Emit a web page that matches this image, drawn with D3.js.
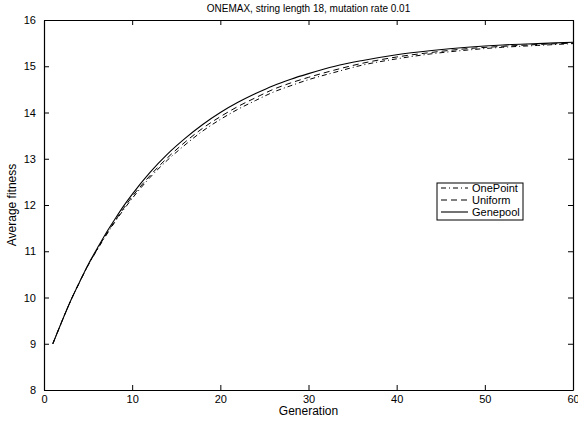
<!DOCTYPE html>
<html>
<head>
<meta charset="utf-8">
<script src="https://cdn.jsdelivr.net/npm/d3@7"></script>
<style>
  body { margin: 0; background: #fff; }
  svg { font-family: "Liberation Sans", Arial, sans-serif; }
</style>
</head>
<body>
<div id="chart"></div>
<script>
// data
const generations = [1, 2, 3, 4, 5, 6, 7, 8, 9, 10, 12, 14, 16, 18, 20, 22, 24, 26, 28, 30, 33, 36, 40, 44, 48, 52, 56, 60];
const genepool = [9.00, 9.47, 9.92, 10.32, 10.71, 11.05, 11.38, 11.68, 11.97, 12.23, 12.70, 13.10, 13.44, 13.74, 14.00, 14.22, 14.41, 14.58, 14.72, 14.84, 15.00, 15.12, 15.25, 15.34, 15.41, 15.46, 15.49, 15.52];
const uniform = [9.00, 9.47, 9.92, 10.32, 10.70, 11.03, 11.35, 11.64, 11.92, 12.18, 12.63, 13.02, 13.36, 13.66, 13.91, 14.13, 14.32, 14.50, 14.64, 14.76, 14.92, 15.06, 15.20, 15.30, 15.38, 15.43, 15.47, 15.50];
const onepoint = [9.00, 9.47, 9.92, 10.32, 10.69, 11.02, 11.33, 11.62, 11.89, 12.14, 12.59, 12.97, 13.30, 13.60, 13.85, 14.07, 14.26, 14.44, 14.58, 14.71, 14.87, 15.02, 15.16, 15.27, 15.35, 15.41, 15.45, 15.49];
const seriesNames = ["OnePoint", "Uniform", "Genepool"];
const xTicks = [0, 10, 20, 30, 40, 50, 60];
const yTicks = [8, 9, 10, 11, 12, 13, 14, 15, 16];

const WIDTH = 578;
const HEIGHT = 426;
const margin = {left: 44, right: 5, top: 20, bottom: 36};

const svg = d3.select("#chart").append("svg")
  .attr("width", WIDTH)
  .attr("height", HEIGHT);

const x = d3.scaleLinear().domain([0, 60]).range([margin.left, WIDTH - margin.right]);
const y = d3.scaleLinear().domain([8, 16]).range([HEIGHT - margin.bottom, margin.top]);

// axes, matlab style: ticks point inward on all four sides
function styleAxis(g) {
  g.selectAll(".domain").attr("stroke", "#000").attr("stroke-width", 1.2);
  g.selectAll(".tick line").attr("stroke", "#000");
  g.selectAll(".tick text").attr("fill", "#000").style("font-size", "11px");
}

svg.append("g")
  .attr("transform", `translate(0,${y(8)})`)
  .call(d3.axisBottom(x).tickValues(xTicks).tickSizeInner(-5).tickSizeOuter(0).tickPadding(5))
  .call(styleAxis);

svg.append("g")
  .attr("transform", `translate(0,${y(16)})`)
  .call(d3.axisTop(x).tickValues(xTicks).tickSizeInner(-5).tickSizeOuter(0).tickFormat(""))
  .call(styleAxis);

svg.append("g")
  .attr("transform", `translate(${x(0)},0)`)
  .call(d3.axisLeft(y).tickValues(yTicks).tickSizeInner(-5).tickSizeOuter(0).tickPadding(8))
  .call(styleAxis);

svg.append("g")
  .attr("transform", `translate(${x(60)},0)`)
  .call(d3.axisRight(y).tickValues(yTicks).tickSizeInner(-5).tickSizeOuter(0).tickFormat(""))
  .call(styleAxis);

// lines
const styles = {
  OnePoint: {values: onepoint, dash: "5,3,1,3", width: 1},
  Uniform: {values: uniform, dash: "6,4", width: 1},
  Genepool: {values: genepool, dash: null, width: 1.1}
};

const line = d3.line()
  .x(d => x(d[0]))
  .y(d => y(d[1]))
  .curve(d3.curveMonotoneX);

seriesNames.forEach(name => {
  const s = styles[name];
  svg.append("path")
    .datum(generations.map((g, i) => [g, s.values[i]]))
    .attr("fill", "none")
    .attr("stroke", "#000")
    .attr("stroke-width", s.width)
    .attr("stroke-dasharray", s.dash)
    .attr("d", line);
});

// title and labels
svg.append("text")
  .attr("x", (x(0) + x(60)) / 2)
  .attr("y", 12)
  .attr("text-anchor", "middle")
  .style("font-size", "10px")
  .text("ONEMAX, string length 18, mutation rate 0.01");

svg.append("text")
  .attr("x", (x(0) + x(60)) / 2)
  .attr("y", 415)
  .attr("text-anchor", "middle")
  .style("font-size", "12px")
  .text("Generation");

svg.append("text")
  .attr("transform", `translate(16,${(y(8) + y(16)) / 2}) rotate(-90)`)
  .attr("text-anchor", "middle")
  .style("font-size", "12px")
  .text("Average fitness");

// legend
const legend = svg.append("g").attr("transform", "translate(437,183)");
legend.append("rect")
  .attr("width", 86).attr("height", 37)
  .attr("fill", "#fff").attr("stroke", "#000").attr("stroke-width", 1);

seriesNames.forEach((name, i) => {
  const s = styles[name];
  const row = legend.append("g").attr("transform", `translate(0,${5 + i * 12})`);
  row.append("line")
    .attr("x1", 4).attr("x2", 31).attr("y1", 0).attr("y2", 0)
    .attr("stroke", "#000")
    .attr("stroke-width", s.width)
    .attr("stroke-dasharray", s.dash);
  row.append("text")
    .attr("x", 35).attr("y", 4)
    .style("font-size", "11px")
    .text(name);
});
</script>
</body>
</html>
